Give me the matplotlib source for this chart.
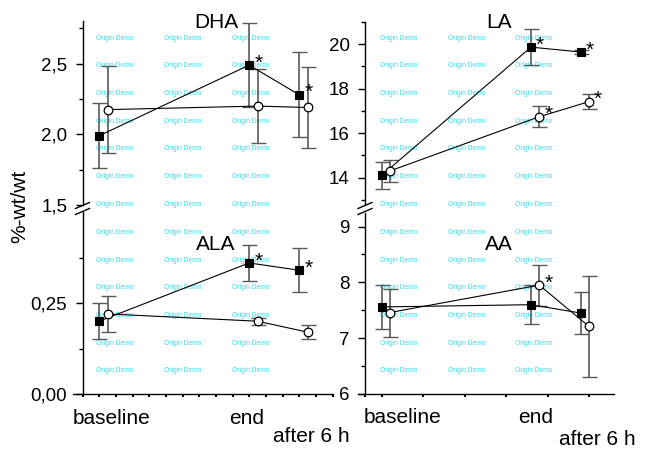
import matplotlib
matplotlib.use('Agg')
import matplotlib.pyplot as plt
from matplotlib.lines import Line2D
from matplotlib.ticker import FixedLocator, FuncFormatter, NullFormatter
from matplotlib.transforms import blended_transform_factory

plt.rcParams['font.family'] = ['Liberation Sans', 'DejaVu Sans']

# ---------------- data ----------------
time_labels = ['baseline', 'end', 'after 6 h']
x_solid = [1, 10, 13]
x_open = [1.5, 10.5, 13.5]

dha_solid = [1.99, 2.49, 2.28]
dha_solid_err = [0.23, 0.30, 0.30]
dha_open = [2.175, 2.20, 2.19]
dha_open_err = [0.31, 0.26, 0.29]
dha_solid_sig = [0, 1, 1]
dha_open_sig = [0, 0, 0]

ala_solid = [0.20, 0.36, 0.34]
ala_solid_err = [0.05, 0.05, 0.06]
ala_open = [0.22, 0.20, 0.17]
ala_open_err = [0.05, 0.01, 0.02]
ala_solid_sig = [0, 1, 1]
ala_open_sig = [0, 0, 0]

la_solid = [14.10, 19.87, 19.65]
la_solid_err = [0.60, 0.80, 0.07]
la_open = [14.30, 16.74, 17.42]
la_open_err = [0.48, 0.47, 0.32]
la_solid_sig = [0, 1, 1]
la_open_sig = [0, 1, 1]

aa_solid = [7.56, 7.60, 7.45]
aa_solid_err = [0.40, 0.35, 0.38]
aa_open = [7.46, 7.95, 7.21]
aa_open_err = [0.43, 0.37, 0.90]
aa_solid_sig = [0, 0, 0]
aa_open_sig = [0, 1, 0]

panel_titles = ['DHA', 'ALA', 'LA', 'AA']
y_label = '%-wt/wt'
watermark = 'Origin Demo'

# ---------------- figure ----------------
W, H = 653, 449
fig = plt.figure(figsize=(W / 100, H / 100), dpi=100)


def add_ax(x0, x1, ytop, ybot):
    ax = fig.add_axes([x0 / W, 1 - ybot / H, (x1 - x0) / W, (ybot - ytop) / H])
    ax.set_facecolor('none')
    return ax


ax_dha = add_ax(73, 332.5, 21.3, 205)
ax_ala = add_ax(73, 332.5, 212, 394)
ax_la = add_ax(358, 614, 22, 205)
ax_aa = add_ax(358, 614, 212.6, 394)

for ax in (ax_dha, ax_ala):
    ax.set_xlim(-0.57, 15)
for ax in (ax_la, ax_aa):
    ax.set_xlim(-0.42, 15)

ax_dha.set_ylim(1.5, 2.8)
ax_ala.set_ylim(0, 0.5)
ax_la.set_ylim(12.77, 21.0)
ax_aa.set_ylim(6, 9.25)

for ax in (ax_dha, ax_ala, ax_la, ax_aa):
    ax.spines['top'].set_visible(False)
    ax.spines['right'].set_visible(False)
    ax.spines['left'].set_position(('data', 0))
    ax.spines['left'].set_linewidth(1.0)
    ax.spines['bottom'].set_linewidth(1.0)
    ax.tick_params(axis='y', which='major', direction='out', length=5, width=1.0,
                   labelsize=13.5, pad=6)
    ax.tick_params(axis='y', which='minor', direction='out', length=3, width=1.0)

for ax in (ax_dha, ax_la):
    ax.spines['bottom'].set_visible(False)
    ax.tick_params(axis='x', which='both', bottom=False, labelbottom=False)

# y ticks
ax_dha.yaxis.set_major_locator(FixedLocator([1.5, 2.0, 2.5]))
ax_dha.yaxis.set_minor_locator(FixedLocator([1.75, 2.25, 2.75]))
ax_dha.yaxis.set_major_formatter(FuncFormatter(lambda v, p: f'{v:.1f}'.replace('.', ',')))
ax_ala.yaxis.set_major_locator(FixedLocator([0.0, 0.25]))
ax_ala.yaxis.set_minor_locator(FixedLocator([0.125, 0.375]))
ax_ala.yaxis.set_major_formatter(FuncFormatter(lambda v, p: f'{v:.2f}'.replace('.', ',')))
ax_la.yaxis.set_major_locator(FixedLocator([14, 16, 18, 20]))
ax_la.yaxis.set_minor_locator(FixedLocator([13, 15, 17, 19, 21]))
ax_la.yaxis.set_major_formatter(FuncFormatter(lambda v, p: f'{v:.0f}'))
ax_aa.yaxis.set_major_locator(FixedLocator([6, 7, 8, 9]))
ax_aa.yaxis.set_minor_locator(FixedLocator([6.5, 7.5, 8.5]))
ax_aa.yaxis.set_major_formatter(FuncFormatter(lambda v, p: f'{v:.0f}'))

# x ticks
ax_ala.xaxis.set_major_locator(FixedLocator(list(range(0, 16))))
ax_aa.xaxis.set_major_locator(FixedLocator([0, 1, 3.5, 6, 8.5, 11, 13.5]))
for ax in (ax_ala, ax_aa):
    ax.xaxis.set_major_formatter(NullFormatter())
    ax.tick_params(axis='x', which='major', direction='out', length=2.5, width=1.5)


def draw_series(ax, x, y, err, sig, filled):
    eb = ax.errorbar(x, y, yerr=err, fmt='none', ecolor='#5a5a5a', elinewidth=1.2,
                     capsize=5.4, capthick=1.0, zorder=2)
    for cl in eb[1]:
        cl.set_color('black')
    ax.plot(x, y, color='black', lw=0.8, zorder=3)
    if filled:
        ax.plot(x, y, 's', ms=5.2, mfc='black', mec='black', mew=0.8, zorder=4)
    else:
        ax.plot(x, y, 'o', ms=6.2, mfc='white', mec='black', mew=0.9, zorder=4)
    for xi, yi, s in zip(x, y, sig):
        if s:
            ax.annotate('*', (xi, yi), xytext=(6.5, -2.5), textcoords='offset points',
                        fontsize=15, ha='center', va='baseline', zorder=5)


draw_series(ax_dha, x_solid, dha_solid, dha_solid_err, dha_solid_sig, True)
draw_series(ax_dha, x_open, dha_open, dha_open_err, dha_open_sig, False)
draw_series(ax_ala, x_solid, ala_solid, ala_solid_err, ala_solid_sig, True)
draw_series(ax_ala, x_open, ala_open, ala_open_err, ala_open_sig, False)
draw_series(ax_la, x_solid, la_solid, la_solid_err, la_solid_sig, True)
draw_series(ax_la, x_open, la_open, la_open_err, la_open_sig, False)
draw_series(ax_aa, x_solid, aa_solid, aa_solid_err, aa_solid_sig, True)
draw_series(ax_aa, x_open, aa_open, aa_open_err, aa_open_sig, False)

# panel titles (pixel placement)
def fig_text_px(px, py, s, **kw):
    fig.text(px / W, 1 - py / H, s, **kw)

fig_text_px(216, 23, panel_titles[0], fontsize=15, ha='center', va='center')
fig_text_px(216, 245, panel_titles[1], fontsize=15, ha='center', va='center')
fig_text_px(499, 23, panel_titles[2], fontsize=15, ha='center', va='center')
fig_text_px(499, 245, panel_titles[3], fontsize=15, ha='center', va='center')

# x category labels
label_x_left = [1.77, 9.87, 13.7]
label_x_right = [2.29, 10.3, 14.0]
label_y_left = [-0.132, -0.132, -0.236]
label_y_right = [-0.132, -0.132, -0.25]
for ax, lx, ly in ((ax_ala, label_x_left, label_y_left), (ax_aa, label_x_right, label_y_right)):
    tr = blended_transform_factory(ax.transData, ax.transAxes)
    for lab, xx, yy in zip(time_labels, lx, ly):
        ax.text(xx, yy, lab, transform=tr, fontsize=15, ha='center', va='center', clip_on=False)

# y label
fig_text_px(20, 206, y_label, fontsize=15, rotation=90, ha='center', va='center')

# axis break marks
for sx in (82.5, 365):
    for by in (205.5, 211.5):
        fig.add_artist(Line2D([(sx - 7) / W, (sx + 7) / W],
                              [1 - (by + 3) / H, 1 - (by - 3) / H],
                              color='black', lw=1.0))

# watermark
rows = [38 + 27.75 * k for k in range(13)]
cols = [115, 183, 251, 399, 467, 534]
for cx in cols:
    for cy in rows:
        fig.text(cx / W, 1 - cy / H, watermark, fontsize=4.8, color='#33dde6',
                 ha='center', va='center', zorder=-1)

fig.savefig('out.png', dpi=100)
